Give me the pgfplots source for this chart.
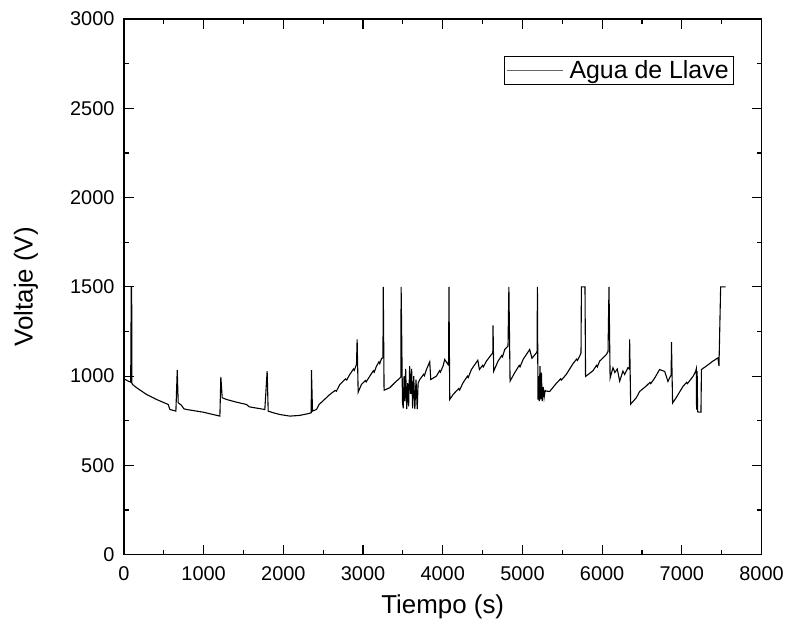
\documentclass[border=0pt]{standalone}
\usepackage{fontspec}
\setmainfont{Liberation Sans}
\usepackage{pgfplots}
\pgfplotsset{compat=1.18}
\begin{document}
\begin{tikzpicture}
\begin{axis}[
 scale only axis, width=638bp, height=536bp,
 xmin=0,xmax=8000,ymin=0,ymax=3000,
 xtick={0,1000,...,8000}, ytick={0,500,...,3000},
 minor x tick num=1, minor y tick num=1,
 tick align=inside, major tick length=10bp, minor tick length=5bp,
 every tick/.style={black, line width=1.2bp},
 axis line style={line width=1.6bp},
 /pgf/number format/assume math mode=true,
 /pgf/number format/1000 sep={},
 scaled ticks=false,
 tick label style={font=\fontsize{20}{20}\selectfont},
 xticklabel style={yshift=-8bp},
 yticklabel style={xshift=-6bp},
 xlabel={Tiempo (s)}, ylabel={Voltaje (V)},
 label style={font=\fontsize{26}{26}\selectfont},
 xlabel style={at={(axis description cs:0.5,-0.097)}, anchor=center},
 ylabel style={at={(axis description cs:-0.1536,0.5)}, anchor=center},
 legend style={at={(axis description cs:1,1)}, anchor=north east, xshift=-28bp, yshift=-37bp, draw=black, line width=0.8bp, font=\fontsize{25}{25}\selectfont, inner sep=2.5bp, /tikz/every odd column/.append style={column sep=4bp}},
 legend image code/.code={\draw[black!60, line width=0.8bp] (0bp,0bp) -- (56bp,0bp);},
]
\addplot[black, line width=1.1bp] coordinates {
(0,985) (40,975) (85,966) (92,1500) (97,1500) (100,960) (109,953)
(159,935) (284,897) (410,869) (556,841) (577,813) (652,804) (669,1033) (681,851) (723,836) (752,817) (786,813) (995,798) (1204,776) (1216,996) (1233,879) (1288,869) (1413,854) (1538,841) (1572,828) (1622,824) (1768,813) (1797,1028) (1810,804) (1872,795) (1956,785) (2082,776) (2207,780) (2324,791) (2350,795) (2353,1033) (2366,804) (2416,813) (2449,841) (2583,897) (2650,920) (2665,915) (2709,953) (2780,985) (2795,978) (2834,1009) (2880,1040) (2890,1032) (2918,1065) (2926,1205) (2939,910) (2980,953) (3030,975) (3040,968) (3085,1000) (3130,1030) (3140,1022) (3169,1056) (3200,1080) (3210,1070) (3231,1097) (3250,1105) (3254,1500) (3264,921) (3336,935) (3398,963) (3453,985) (3474,995) (3478,1500) (3495,851)
(3505,820) (3515,1000) (3525,860) (3535,1040) (3548,815) (3560,960) (3572,830) (3585,1056) (3598,900) (3610,1040) (3622,820) (3636,1000) (3650,815) (3665,980) (3680,815) (3691,960) (3712,981) (3760,1010) (3770,1002) (3796,1037) (3837,1080) (3850,981) (3921,1000) (3960,1030) (3970,1022) (4004,1056) (4025,1093) (4067,1065) (4074,1085) (4078,1500) (4088,869)
(4130,897) (4200,930) (4212,922) (4255,963) (4310,1000) (4320,992) (4360,1037) (4440,1089) (4460,1037) (4500,1060) (4510,1052) (4548,1084) (4611,1121) (4628,1130) (4631,1284) (4640,1028) (4694,1084) (4740,1115) (4750,1108) (4778,1149) (4819,1168) (4830,1500) (4845,972) (4903,1019) (4960,1060) (4970,1052) (5008,1093) (5091,1149) (5120,1100) (5175,1130) (5184,1140) (5188,1500) (5195,869)
(5203,1000) (5211,860) (5220,1056) (5229,870) (5238,1020) (5248,860) (5260,940) (5272,880) (5285,920) (5300,916) (5342,914) (5426,960) (5480,985) (5490,978) (5551,1010) (5635,1070) (5680,1095) (5690,1088) (5718,1112) (5735,1130) (5740,1500) (5785,1500) (5792,998) (5885,1030) (5930,1060) (5940,1052) (5969,1084) (6053,1121) (6074,1138)
(6086,1500) (6100,989) (6136,1047) (6160,1020) (6190,1040) (6220,972) (6261,1028) (6282,1009) (6324,1047) (6342,1040) (6345,1205) (6358,843) (6429,879) (6471,914) (6554,945) (6600,965) (6610,958) (6659,989) (6721,1037) (6785,1026) (6826,970) (6855,998) (6866,1005) (6870,1190) (6884,849) (6930,880) (7014,942) (7060,965) (7070,958) (7140,998) (7173,1026) (7181,1040) (7185,813) (7192,1028) (7198,800) (7223,798) (7240,798) (7246,1037) (7307,1056) (7390,1084) (7453,1102) (7466,1056) (7487,1500) (7549,1500)
};
\addlegendentry{Agua de Llave}
\end{axis}
\path ([xshift=-124bp,yshift=-75bp]current axis.south west) rectangle ([xshift=25bp,yshift=19bp]current axis.north east);
\end{tikzpicture}
\end{document}
